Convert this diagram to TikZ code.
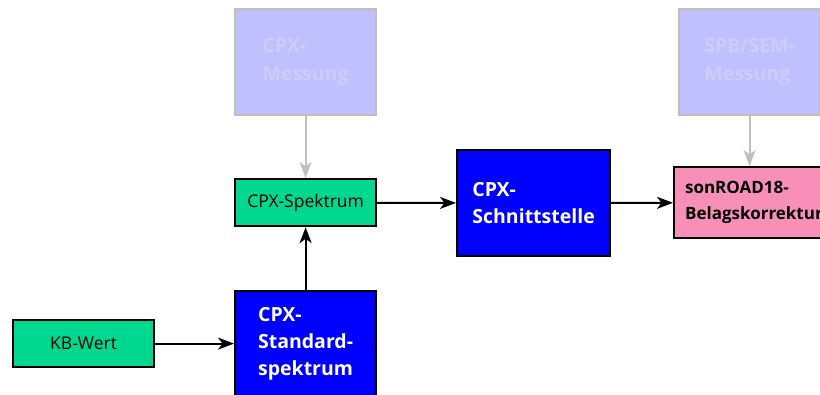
\documentclass[tikz,border=0pt]{standalone}
\usepackage{fontspec}
\setmainfont{Open Sans}
\usetikzlibrary{arrows.meta}
\definecolor{cpxgreen}{HTML}{00D890}
\definecolor{cpxblue}{HTML}{0000FF}
\definecolor{cpxpink}{HTML}{F78FB8}
\definecolor{fadefill}{HTML}{C0C0FF}
\definecolor{fadetext}{HTML}{CCCCFF}
\definecolor{fadeline}{HTML}{BFBFBF}
\begin{document}
\begin{tikzpicture}[x=1pt, y=-1pt,
    box/.style={anchor=north west, align=left, inner sep=0pt, minimum width=141pt, line width=2.2pt},
    fadedbox/.style={box, draw=fadeline, fill=fadefill, text=fadetext, font=\fontsize{19.5}{28}\selectfont\bfseries},
    greenbox/.style={box, draw=black, fill=cpxgreen, font=\fontsize{17.5}{20}\selectfont},
    bluebox/.style={box, draw=black, fill=cpxblue, text=white, font=\fontsize{19.5}{27}\selectfont\bfseries},
    pinkbox/.style={box, draw=black, fill=cpxpink, font=\fontsize{17}{26}\selectfont\bfseries},
    arrow/.style={-{Stealth[length=16pt, width=12pt, inset=4.5pt]}, line width=2pt},
    grayarrow/.style={arrow, draw=fadeline}]
  \useasboundingbox (0,0) rectangle (820,394);

  \node (messcpx) at (234, 8) [fadedbox, minimum height=106pt] {CPX-\\Messung};
  \node (messspb) at (678, 8) [fadedbox, minimum height=106pt] {SPB/SEM-\\Messung};
  \node (spektrum) at (234, 178) [greenbox, minimum height=47pt] {CPX-Spektrum};
  \node (kbwert) at (12, 319) [greenbox, minimum height=47pt] {KB-Wert};
  \node (schnitt) at (456, 149) [bluebox, minimum width=153pt, minimum height=106pt] {CPX-\\Schnittstelle};
  \node (standard) at (234, 290) [bluebox, minimum height=106pt] {CPX-\\Standard-\\spektrum};
  \node (sonroad) at (673, 166) [pinkbox, minimum height=71pt, text width=170pt, inner xsep=11pt] {sonROAD18-\\Belagskorrektur};

  \draw[grayarrow] (messcpx) to (spektrum);
  \draw[grayarrow] (messspb.south) to (messspb.south |- sonroad.north);
  \draw[arrow] (kbwert.east) to (kbwert.east -| standard.west);
  \draw[arrow] (standard) to (spektrum);
  \draw[arrow] (spektrum) to (schnitt);
  \draw[arrow] (schnitt) to (sonroad);
\end{tikzpicture}
\end{document}
